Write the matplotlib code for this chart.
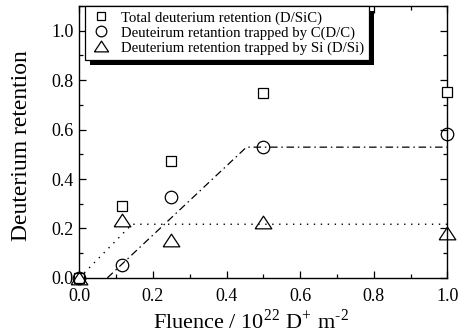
import matplotlib
matplotlib.use('Agg')
import matplotlib.pyplot as plt
from matplotlib.patches import Rectangle
from matplotlib.ticker import MultipleLocator

plt.rcParams['font.family'] = ['Liberation Serif', 'DejaVu Serif']
plt.rcParams['mathtext.fontset'] = 'stix'

# === DADOS ===
fluencia = [0.0, 0.116, 0.25, 0.5, 1.0]
total_dsic = [0.0, 0.289, 0.471, 0.748, 0.754]
retido_c = [0.0, 0.053, 0.327, 0.529, 0.583]
retido_si = [0.0, 0.235, 0.154, 0.228, 0.181]

# linhas guia (ajuste)
guia_c_x = [0.076, 0.454, 1.0]
guia_c_y = [0.0, 0.529, 0.529]
guia_si_x = [0.0, 0.143, 1.0]
guia_si_y = [0.0, 0.217, 0.217]

rotulos = ['Total deuterium retention (D/SiC)',
           'Deuteirum retantion trapped by C(D/C)',
           'Deuterium retention trapped by Si (D/Si)']

triangulo = [(-1, -0.76), (1, -0.76), (0, 0.76), (-1, -0.76)]

fig = plt.figure(figsize=(4.67, 3.36), dpi=100)
ax = fig.add_axes([0.170, 0.173, 0.788, 0.809])

ax.plot(guia_c_x, guia_c_y, color='black', lw=0.9, ls=(0, (6, 3, 1.2, 3)))
ax.plot(guia_si_x, guia_si_y, color='black', lw=1.0, ls=(0, (1, 4)))

ax.plot(fluencia, total_dsic, ls='none', marker='s', ms=7.2, mfc='white',
        mec='black', mew=0.9, label=rotulos[0], clip_on=False, zorder=3)
ax.plot(fluencia, retido_c, ls='none', marker='o', ms=9, mfc='none',
        mec='black', mew=0.9, label=rotulos[1], clip_on=False, zorder=3)
ax.plot(fluencia, retido_si, ls='none', marker=triangulo, ms=12, mfc='none',
        mec='black', mew=0.9, label=rotulos[2], clip_on=False, zorder=3)

ax.set_xlim(0, 1.0)
ax.set_ylim(0, 1.1)
ax.xaxis.set_major_locator(MultipleLocator(0.2))
ax.xaxis.set_minor_locator(MultipleLocator(0.1))
ax.yaxis.set_major_locator(MultipleLocator(0.2))
ax.yaxis.set_minor_locator(MultipleLocator(0.1))
ax.xaxis.set_major_formatter(plt.FormatStrFormatter('%.1f'))
ax.yaxis.set_major_formatter(plt.FormatStrFormatter('%.1f'))
ax.tick_params(which='both', direction='in', top=True, right=True, labelsize=13)
ax.tick_params(which='major', length=5, width=0.9)
ax.tick_params(which='minor', length=3, width=0.9)
ax.tick_params(axis='x', pad=7)
ax.tick_params(axis='y', pad=4)
for s in ax.spines.values():
    s.set_linewidth(1.0)

hifen = '\u2010'
ax.set_xlabel(r'Fluence / 10$^{\mathregular{22}}$ D$^{\mathregular{+}}$ m$^{\mathregular{' + hifen + '2}}$',
              fontsize=16)
ax.set_ylabel('Deuterium retention', fontsize=17)
ax.xaxis.set_label_coords(0.466, -0.118)
ax.yaxis.set_label_coords(-0.13, 0.485)

leg = ax.legend(loc='upper left', bbox_to_anchor=(0.015, 1.0), borderaxespad=0,
                fontsize=10.6, fancybox=False, framealpha=1, edgecolor='black',
                handletextpad=0.6, labelspacing=0.1, borderpad=0.35,
                markerscale=0.85, handlelength=1.5)
leg.get_frame().set_linewidth(0.9)

# sombra preta deslocada da legenda
fig.canvas.draw()
bb = leg.get_window_extent().transformed(fig.transFigure.inverted())
dx, dy = 5 / 467, 5 / 336
ax.add_patch(Rectangle((bb.x0 + dx, bb.y0 - dy), bb.width, bb.height,
                       transform=fig.transFigure, facecolor='black',
                       edgecolor='none', zorder=4.9, clip_on=False))

fig.savefig('out.png', dpi=100)
